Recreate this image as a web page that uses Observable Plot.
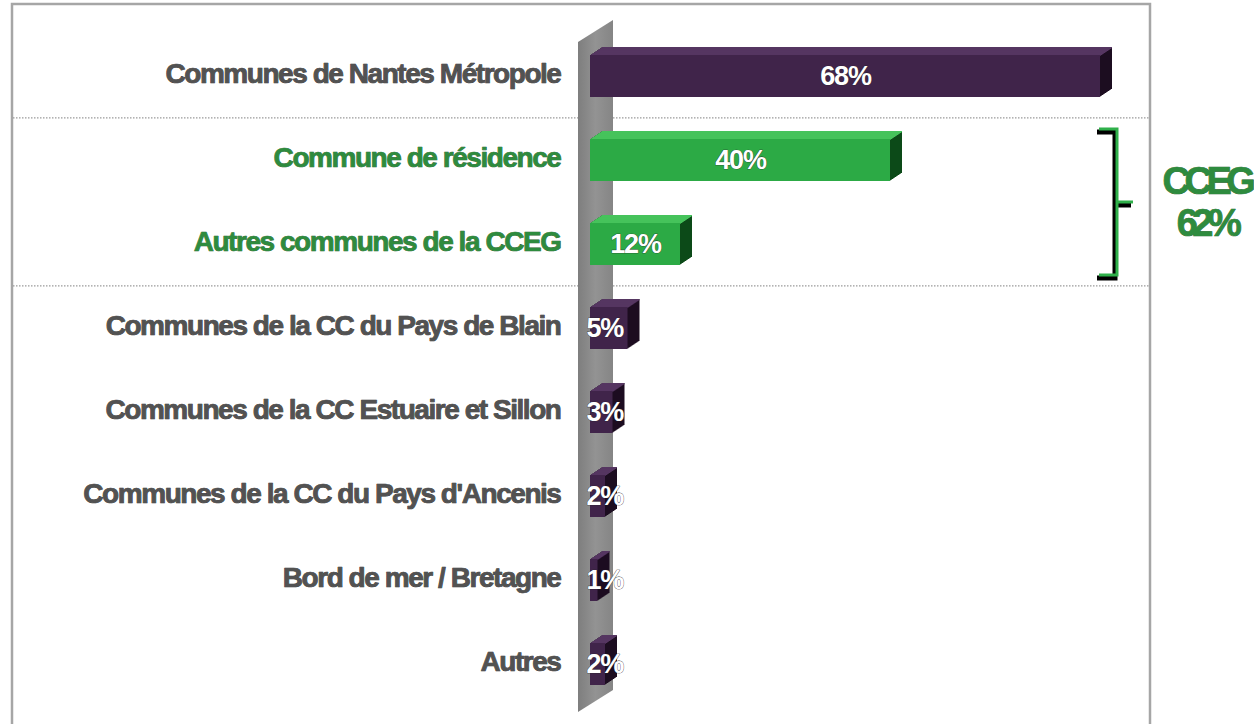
<!DOCTYPE html>
<html><head><meta charset="utf-8">
<script src="https://cdn.jsdelivr.net/npm/d3@7"></script>
<script src="https://cdn.jsdelivr.net/npm/@observablehq/plot@0.6"></script>
<style>
body{margin:0;background:#fff;overflow:hidden} svg{display:block}
g[font-size="28"] text{letter-spacing:-1.45px}
g[font-size="27"] text{letter-spacing:-1.2px}
g[font-size="38"] text{letter-spacing:-5.5px}
</style>
</head><body><div id="chart"></div>
<script>
const categories = [
  "Communes de Nantes Métropole",
  "Commune de résidence",
  "Autres communes de la CCEG",
  "Communes de la CC du Pays de Blain",
  "Communes de la CC Estuaire et Sillon",
  "Communes de la CC du Pays d'Ancenis",
  "Bord de mer / Bretagne",
  "Autres"
];
const values = [68, 40, 12, 5, 3, 2, 1, 2];
const valueLabels = ["68%", "40%", "12%", "5%", "3%", "2%", "1%", "2%"];
const groups = ["autre", "cceg", "cceg", "autre", "autre", "autre", "autre", "autre"];
const bracketTitle = "CCEG";
const bracketTotal = "62%";
const bracketRange = ["Commune de résidence", "Autres communes de la CCEG"];
const separatorsBefore = ["Commune de résidence", "Communes de la CC du Pays de Blain"];

const data = categories.map((c, i) => ({cat: c, v: values[i], label: valueLabels[i], group: groups[i]}));

const palette = {
  autre: {front: "#40244a", top: "#563662", side: "#1c0d20", text: "#525252", stroke: "#2a2a2a"},
  cceg:  {front: "#2caa45", top: "#46c35c", side: "#0c4a18", text: "#2e8b3e", stroke: "#1b5a27"}
};

const W = 1254, H = 724;
const mTop = 32, mBottom = 16, mLeft = 590, mRight = 101.5;
const pInner = 0.5, pOuter = 0.25;
const step = (H - mTop - mBottom) / (categories.length - pInner + 2 * pOuter);
const bw = step * (1 - pInner);
const DX = 12, DY = 8, N = 12;

const sideLayers = d3.range(N, 0, -1).map(i => Plot.barX(data, {
  x: "v", y: "cat", fill: d => palette[d.group].side, dx: i * DX / N, dy: -i * DY / N
}));
const topLayers = d3.range(N, 0, -1).map(i => Plot.barX(data, {
  x: "v", y: "cat", fill: d => palette[d.group].top, dx: i * DX / N, dy: -i * DY / N,
  insetBottom: bw - 1.6
}));

function decor(index, scales, values, dims) {
  const g = d3.create("svg:g");
  const x0 = scales.x(0);
  g.append("path").attr("d", `M12,${H}V4H1150V${H}`).attr("fill", "none")
    .attr("stroke", "#a6a6a6").attr("stroke-width", 2.5);
  for (const c of separatorsBefore) {
    const yy = scales.y(c) - (step - bw) / 2;
    g.append("line").attr("x1", 13).attr("x2", 1149).attr("y1", yy).attr("y2", yy)
      .attr("stroke", "#9a9a9a").attr("stroke-width", 1.2).attr("stroke-dasharray", "1.5,1.5");
  }
  const yTop = dims.marginTop + 10, yBot = H - 12;
  const grad = g.append("defs").append("linearGradient").attr("id", "wallg").attr("x1", 0).attr("x2", 1);
  grad.append("stop").attr("offset", 0).attr("stop-color", "#7e7e7e");
  grad.append("stop").attr("offset", 0.5).attr("stop-color", "#939393");
  grad.append("stop").attr("offset", 1).attr("stop-color", "#858585");
  g.append("path")
    .attr("d", `M${x0 - 12},${yTop}L${x0 + 23},${yTop - 22}L${x0 + 23},${yBot - 22}L${x0 - 12},${yBot}Z`)
    .attr("fill", "url(#wallg)");
  return g.node();
}

function bracket(index, scales, values, dims) {
  const g = d3.create("svg:g");
  const y1 = scales.y(bracketRange[0]) - 10;
  const y2 = scales.y(bracketRange[1]) + scales.y.bandwidth() + 10;
  const ym = (y1 + y2) / 2;
  const xv = 1117;
  const d = `M1099,${y1}H${xv}V${y2}H1099M${xv},${ym}H1133`;
  g.append("path").attr("d", d).attr("fill", "none").attr("stroke", "#000")
    .attr("stroke-width", 5).attr("transform", "translate(-2,3)");
  g.append("path").attr("d", d).attr("fill", "none").attr("stroke", "#2fb04a")
    .attr("stroke-width", 3);
  return g.node();
}

const plot = Plot.plot({
  width: W, height: H,
  marginTop: mTop, marginBottom: mBottom, marginLeft: mLeft, marginRight: mRight,
  x: {domain: [0, 75], axis: null},
  y: {domain: categories, axis: null, paddingInner: pInner, paddingOuter: pOuter},
  color: {type: "identity"},
  style: {fontFamily: "'Liberation Sans', Arial, sans-serif", background: "#fff"},
  marks: [
    decor,
    ...sideLayers,
    ...topLayers,
    Plot.barX(data, {x: "v", y: "cat", fill: d => palette[d.group].front}),
    Plot.text(data, {
      x: 0, y: "cat", text: "cat", textAnchor: "end", dx: -30, dy: -2,
      fill: d => palette[d.group].text, stroke: d => palette[d.group].stroke,
      fontSize: 28, fontWeight: "bold", strokeWidth: 0.7
    }),
    Plot.text(data.filter(d => d.v >= 10), {
      x: d => d.v / 2, y: "cat", text: "label", fill: "white", stroke: "#222",
      strokeWidth: 0.6, fontSize: 27, fontWeight: "bold"
    }),
    Plot.text(data.filter(d => d.v < 10), {
      x: 0, y: "cat", text: "label", textAnchor: "start", dx: -4, fill: "white",
      stroke: "#222", strokeWidth: 0.6, fontSize: 27, fontWeight: "bold"
    }),
    bracket,
    Plot.text([bracketTitle], {
      x: 0, y: () => bracketRange[0], text: d => d, dx: 1206 - mLeft, dy: 21,
      fill: "#2e8b3e", stroke: "#1d5e29", strokeWidth: 0.7, fontSize: 38, fontWeight: "bold"
    }),
    Plot.text([bracketTotal], {
      x: 0, y: () => bracketRange[0], text: d => d, dx: 1206 - mLeft, dy: 63,
      fill: "#2e8b3e", stroke: "#1d5e29", strokeWidth: 0.7, fontSize: 38, fontWeight: "bold"
    })
  ]
});
document.getElementById("chart").appendChild(plot);
</script></body></html>
